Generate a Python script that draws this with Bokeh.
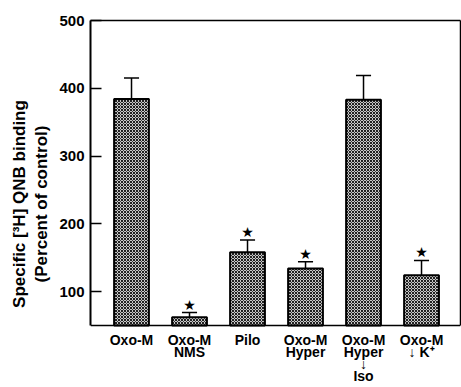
from bokeh.plotting import figure
from bokeh.models import ColumnDataSource, FixedTicker, Range1d, LinearAxis, Span
from bokeh.embed import file_html
from bokeh.resources import INLINE
from bokeh.core.properties import value

categories = ["Oxo-M", "Oxo-M\nNMS", "Pilo", "Oxo-M\nHyper", "Oxo-M\nHyper\n\u2193\nIso", "Oxo-M\n\u2193 K\u207a"]
means = [384, 62, 158, 134, 383, 124]
errors = [31, 7, 18, 10, 36, 22]
significant = [False, True, True, True, False, True]
y_ticks = [100, 200, 300, 400, 500]
Y_MIN, Y_MAX = 50, 500

FONT = "Liberation Sans"

# layout: data area is 305 px tall, with 62 px of category labels below it
AREA_PX, BELOW_PX = 305, 62
px_per_unit = AREA_PX / (Y_MAX - Y_MIN)
y_start = Y_MIN - BELOW_PX / px_per_unit

xs = list(range(len(categories)))
tops = [m + e for m, e in zip(means, errors)]
cap = 0.13

src = ColumnDataSource(dict(x=xs, top=means, err=tops,
                            cl=[x - cap for x in xs], cr=[x + cap for x in xs]))
star_src = ColumnDataSource(dict(
    x=[x for x, s in zip(xs, significant) if s],
    y=[t for t, s in zip(tops, significant) if s],
    t=["\u2605" for s in significant if s]))

p = figure(width=461, height=387, output_backend="svg", toolbar_location=None,
           x_axis_location=None,
           x_range=Range1d(-0.707, 5.672), y_range=Range1d(y_start, Y_MAX),
           min_border_left=90, min_border_right=1, min_border_top=20, min_border_bottom=0)

p.vbar(x="x", top="top", bottom=Y_MIN, width=0.6, source=src,
       fill_color="#c8c8c8", line_color="black", line_width=2,
       hatch_pattern="diagonal_cross", hatch_color="#202020", hatch_scale=3, hatch_weight=1)
p.segment(x0="x", y0="top", x1="x", y1="err", source=src, line_color="black", line_width=1.5)
p.segment(x0="cl", y0="err", x1="cr", y1="err", source=src, line_color="black", line_width=1.5)
p.text(x="x", y="y", text="t", source=star_src, text_align="center", text_baseline="middle",
       y_offset=-8, text_font=value("DejaVu Sans"), text_font_size="14px",
       text_color="black")

# category labels, one text row per line, under the baseline
lab_x, lab_y, lab_t, lab_off = [], [], [], []
for x, c in zip(xs, categories):
    for k, line in enumerate(c.split("\n")):
        lab_x.append(x)
        lab_y.append(Y_MIN)
        lab_t.append(line)
        lab_off.append(6 + 12 * k)
lab_src = ColumnDataSource(dict(x=lab_x, y=lab_y, t=lab_t, off=lab_off))
p.text(x="x", y="y", text="t", y_offset="off", source=lab_src,
       text_align="center", text_baseline="top",
       text_font=value(FONT), text_font_style="bold", text_font_size="14px",
       text_color="black")

# baseline of the data area
p.add_layout(Span(location=Y_MIN, dimension="width", line_color="black", line_width=1.5))

p.xgrid.visible = False
p.ygrid.visible = False
p.outline_line_color = None
p.background_fill_color = "white"
p.border_fill_color = "white"

p.yaxis.bounds = (Y_MIN, Y_MAX)
p.yaxis.ticker = FixedTicker(ticks=y_ticks)
p.yaxis.major_tick_in = 11
p.yaxis.major_tick_out = 0
p.yaxis.minor_tick_line_color = None
p.yaxis.axis_line_width = 2
p.yaxis.major_tick_line_width = 1.5
p.yaxis.major_label_text_font = FONT
p.yaxis.major_label_text_font_style = "bold"
p.yaxis.major_label_text_font_size = "15px"
p.yaxis.major_label_text_color = "black"
p.yaxis.major_label_standoff = 6
p.yaxis.axis_label = "Specific [\u00b3H] QNB binding\n(Percent of control)"
p.yaxis.axis_label_text_font = FONT
p.yaxis.axis_label_text_font_style = "bold"
p.yaxis.axis_label_text_font_size = "17px"
p.yaxis.axis_label_text_color = "black"
p.yaxis.axis_label_text_line_height = 1.16
p.yaxis.axis_label_standoff = 5

# frame lines on top and right, without ticks
top_ax = LinearAxis(ticker=FixedTicker(ticks=[]), axis_line_width=1.5,
                    major_tick_line_color=None, minor_tick_line_color=None)
p.add_layout(top_ax, "above")
right_ax = LinearAxis(ticker=FixedTicker(ticks=[]), axis_line_width=1.5, bounds=(Y_MIN, Y_MAX),
                      major_tick_line_color=None, minor_tick_line_color=None)
p.add_layout(right_ax, "right")

open("out.html", "w").write(file_html(p, INLINE))
